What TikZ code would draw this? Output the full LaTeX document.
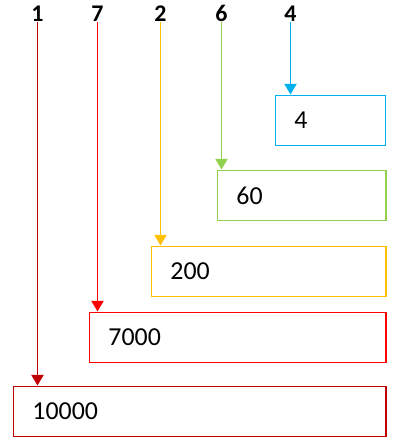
\documentclass[tikz,border=0pt]{standalone}
\usepackage{fontspec}
\setmainfont{Carlito}
\usetikzlibrary{arrows.meta,positioning}
\definecolor{darkred}{HTML}{C00000}
\definecolor{brightred}{HTML}{FF0000}
\definecolor{gold}{HTML}{FFC000}
\definecolor{lightgreen}{HTML}{92D050}
\definecolor{skyblue}{HTML}{00B0F0}

\begin{document}
\begin{tikzpicture}[x=0.025cm, y=-0.025cm,
        digit/.style={font=\fontsize{17}{19}\selectfont\bfseries, inner sep=0pt, anchor=south},
        numbox/.style={draw, line width=1.4pt, anchor=north west, minimum height=1.25cm, inner xsep=0.475cm, align=left, font=\fontsize{18.4}{20}\selectfont},
        arrow/.style={-{Triangle[width=8.5pt,length=7.5pt]}, line width=1.4pt}]
        \useasboundingbox (0,0) rectangle (400,442);

        % digits of the number
        \node[digit] (d1) at (37.5,22) {1};
        \node[digit] (d7) at (97.5,22) {7};
        \node[digit] (d2) at (160.5,22) {2};
        \node[digit] (d6) at (221.5,22) {6};
        \node[digit] (d4) at (290.5,22) {4};

        % place values
        \node[numbox, draw=skyblue, text width=1.8cm] (v4) at (274.5,94.5) {4};
        \node[numbox, draw=lightgreen, text width=3.25cm] (v60) at (216.5,169.5) {60};
        \node[numbox, draw=gold, text width=4.9cm] (v200) at (150.5,245.5) {200};
        \node[numbox, draw=brightred, text width=6.45cm] (v7000) at (88.5,311.5) {7000};
        \node[numbox, draw=darkred, text width=8.35cm] (v10000) at (12.5,385.5) {10000};

        \draw[arrow, skyblue] (d4.south) -- (d4.south |- v4.north);
        \draw[arrow, lightgreen] (d6.south) -- (d6.south |- v60.north);
        \draw[arrow, gold] (d2.south) -- (d2.south |- v200.north);
        \draw[arrow, brightred] (d7.south) -- (d7.south |- v7000.north);
        \draw[arrow, darkred] (d1.south) -- (d1.south |- v10000.north);
    \end{tikzpicture}
\end{document}
